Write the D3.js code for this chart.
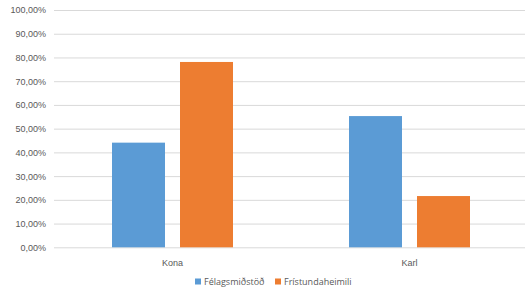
<!DOCTYPE html>
<html lang="is">
<head>
<meta charset="UTF-8">
<title>Kona / Karl</title>
<script src="https://d3js.org/d3.v7.min.js"></script>
<style>
  body { margin: 0; background: #fff; }
  svg { display: block; font-family: 'Open Sans', sans-serif; }
  .tick text { fill: #595959; font-size: 9px; }
  .legend text { fill: #595959; font-size: 9px; }
</style>
</head>
<body>
<script>
  var categories = ["Kona", "Karl"];
  var series = ["Félagsmiðstöð", "Frístundaheimili"];
  var felagsmidstod = [0.441, 0.553];
  var fristundaheimili = [0.781, 0.216];
  var yTicks = [0, 0.1, 0.2, 0.3, 0.4, 0.5, 0.6, 0.7, 0.8, 0.9, 1.0];
  var colors = ["#5b9bd5", "#ed7d31"];

  var width = 525, height = 291;
  var plot = { left: 54, right: 528, top: 10, bottom: 247.3 };

  var svg = d3.select("body").append("svg")
      .attr("width", width)
      .attr("height", height);

  var isLocale = d3.formatLocale({ decimal: ",", thousands: ".", grouping: [3], currency: ["", " kr."] });
  var fmt = isLocale.format(".2%");

  var y = d3.scaleLinear().domain([0, 1]).range([plot.bottom, plot.top]);
  var x0 = d3.scaleBand().domain(categories).range([plot.left, plot.right]).padding(0);
  var groupPad = 58;
  var x1 = d3.scaleBand().domain(series)
      .range([groupPad, x0.bandwidth() - groupPad])
      .paddingInner(15 / 68).paddingOuter(0);

  // gridlines + labels
  var yAxis = svg.append("g")
      .attr("transform", "translate(" + plot.left + ",0)")
      .call(d3.axisLeft(y).tickValues(yTicks).tickFormat(fmt)
        .tickSize(-(width - plot.left)).tickPadding(8));
  yAxis.select(".domain").remove();
  yAxis.selectAll(".tick line").attr("stroke", "#d9d9d9").attr("stroke-width", 1);

  var rows = categories.map(function(c, i) {
    return { cat: c, values: [felagsmidstod[i], fristundaheimili[i]] };
  });

  var groups = svg.append("g").selectAll("g")
    .data(rows)
    .enter().append("g")
      .attr("transform", function(d) { return "translate(" + x0(d.cat) + ",0)"; });

  groups.selectAll("rect")
    .data(function(d) { return d.values.map(function(v, j) { return { s: series[j], v: v, j: j }; }); })
    .enter().append("rect")
      .attr("x", function(d) { return x1(d.s); })
      .attr("y", function(d) { return y(d.v); })
      .attr("width", x1.bandwidth())
      .attr("height", function(d) { return y(0) - y(d.v); })
      .attr("fill", function(d) { return colors[d.j]; });

  // category labels
  var xAxis = svg.append("g")
      .attr("transform", "translate(0," + plot.bottom + ")")
      .call(d3.axisBottom(x0).tickSize(0).tickPadding(12));
  xAxis.select(".domain").remove();

  // legend
  var legend = svg.append("g").attr("class", "legend");
  var legendX = [195, 275];
  series.forEach(function(s, i) {
    legend.append("rect")
        .attr("x", legendX[i]).attr("y", 278.5)
        .attr("width", 6).attr("height", 6)
        .attr("fill", colors[i]);
    legend.append("text")
        .attr("x", legendX[i] + 9).attr("y", 281.5)
        .attr("dy", "0.35em")
        .text(s);
  });
</script>
</body>
</html>
